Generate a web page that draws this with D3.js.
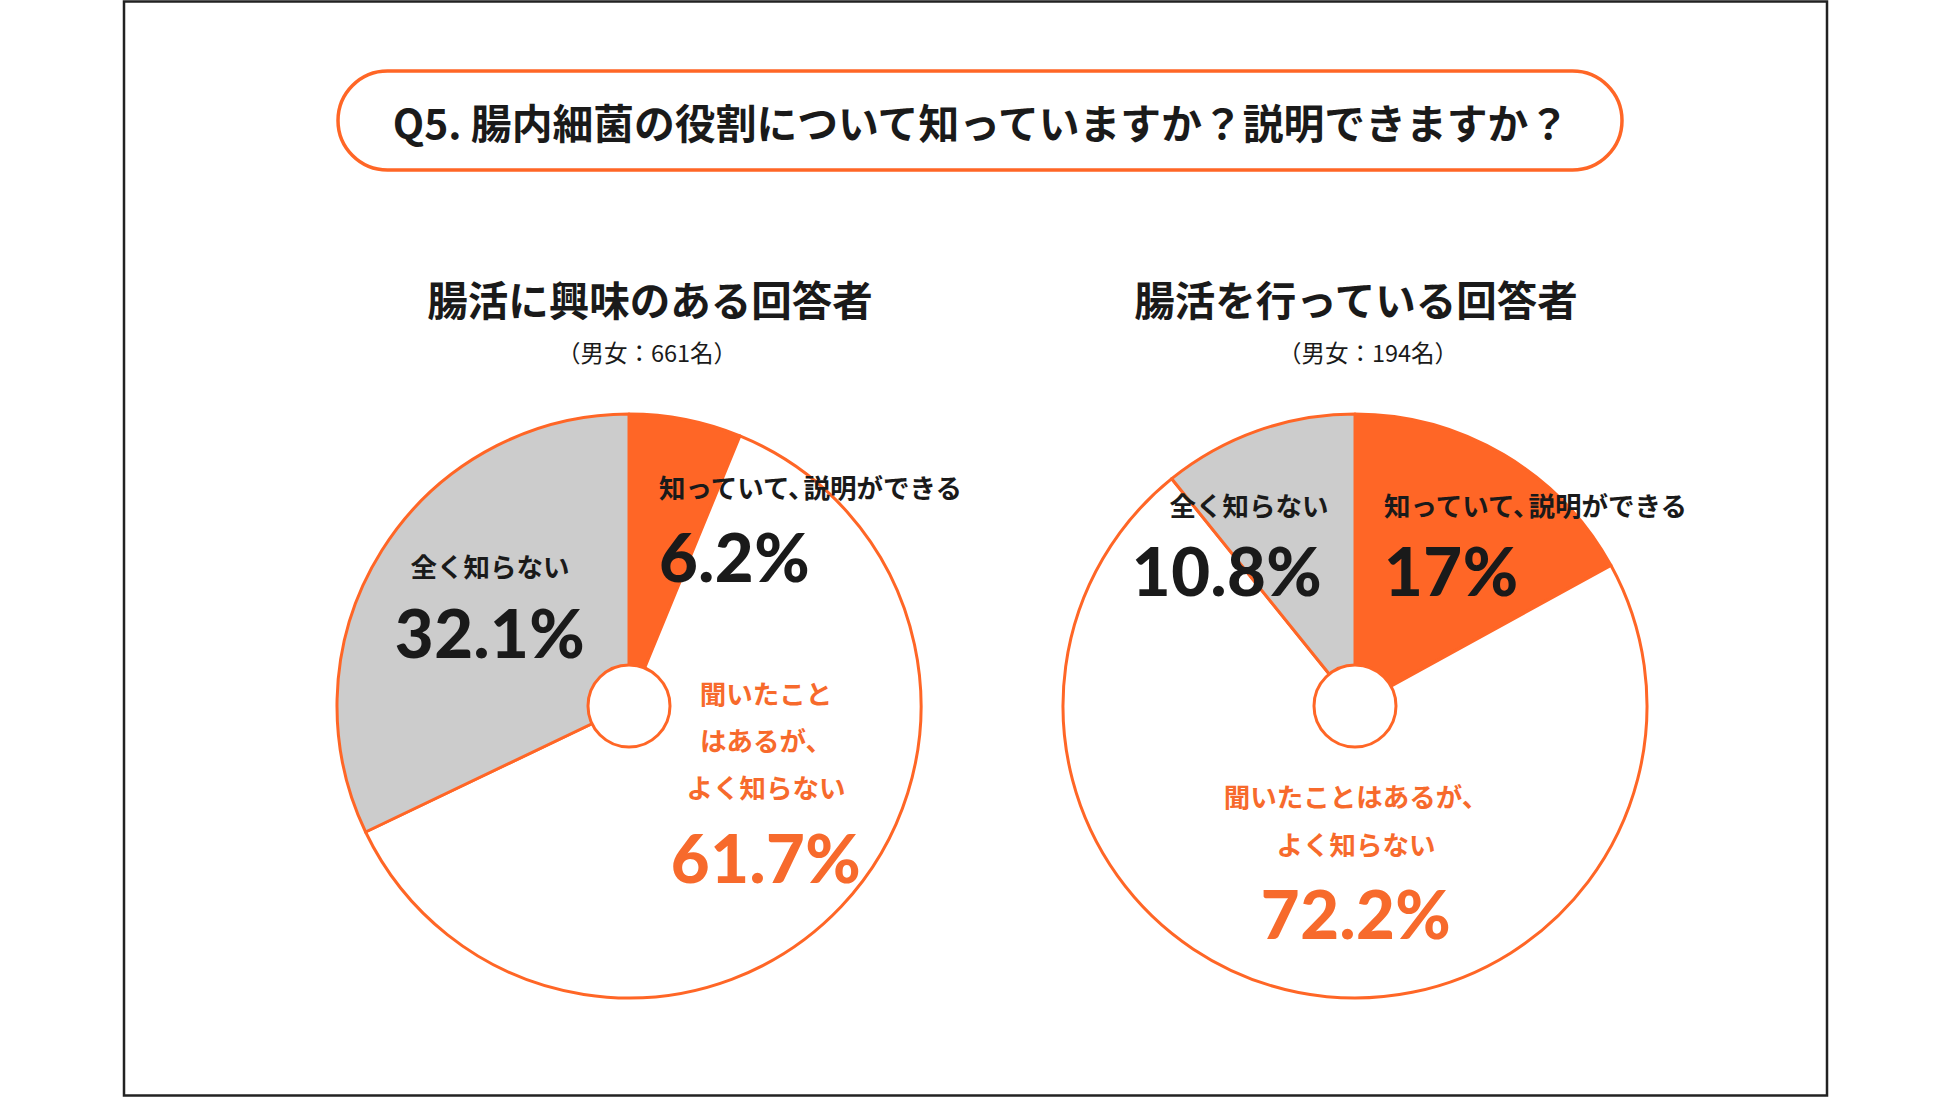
<!DOCTYPE html>
<html lang="ja">
<head>
<meta charset="utf-8">
<script src="https://cdn.jsdelivr.net/npm/d3@7"></script>
<style>
  html, body { margin: 0; padding: 0; background: #fff; }
  svg { display: block; }
</style>
</head>
<body>
<div id="chart"></div>
<script>
// data
const categories = ["知っていて、説明ができる", "聞いたことはあるが、よく知らない", "全く知らない"];
const interestedValues = [6.2, 61.7, 32.1];
const practicingValues = [17, 72.2, 10.8];
const groupTitles = ["腸活に興味のある回答者", "腸活を行っている回答者"];
const groupCounts = ["（男女：661名）", "（男女：194名）"];
const questionTitle = "Q5. 腸内細菌の役割について知っていますか？説明できますか？";

const W = 1950, H = 1097;
const ORANGE = "#ff6626";
const ORANGE_TEXT = "#f76a2c";
const GRAY = "#cccccc";
const DARK = "#1a1a1a";
const JP = "'Noto Sans CJK JP', 'Noto Sans', sans-serif";
const NUM = "Lato, 'Noto Sans', sans-serif";

const svg = d3.select("#chart").append("svg")
    .attr("width", W)
    .attr("height", H)
    .attr("viewBox", `0 0 ${W} ${H}`);

// outer frame
svg.append("rect")
    .attr("x", 124).attr("y", 1.5)
    .attr("width", 1703).attr("height", 1094)
    .attr("fill", "none")
    .attr("stroke", "#222")
    .attr("stroke-width", 2.5);

// question pill
svg.append("rect")
    .attr("x", 338).attr("y", 71)
    .attr("width", 1284).attr("height", 99)
    .attr("rx", 49.5)
    .attr("fill", "#fff")
    .attr("stroke", ORANGE)
    .attr("stroke-width", 3.5);

svg.append("text")
    .attr("x", 981).attr("y", 121)
    .attr("dominant-baseline", "central")
    .attr("text-anchor", "middle")
    .style("font-family", JP)
    .style("font-weight", 700)
    .style("font-size", "40.8px")
    .style("fill", DARK)
    .text(questionTitle);

// per-chart layout (offsets from the pie centre)
const charts = [
    {
        cx: 629, cy: 706, values: interestedValues, title: groupTitles[0], count: groupCounts[0],
        titleX: 650, countX: 647,
        labels: [
            { lines: [categories[0]], anchor: "start", dx: 30, dy: -220, pctDy: -150, color: DARK },
            { lines: ["聞いたこと", "はあるが、", "よく知らない"], anchor: "middle", dx: 137, dy: -14, lineH: 47, pctDy: 151, color: ORANGE_TEXT },
            { lines: [categories[2]], anchor: "middle", dx: -139, dy: -141, pctDy: -74, color: DARK, pctDx: -139 }
        ]
    },
    {
        cx: 1355, cy: 706, values: practicingValues, title: groupTitles[1], count: groupCounts[1],
        titleX: 1356, countX: 1368,
        labels: [
            { lines: [categories[0]], anchor: "start", dx: 29, dy: -202, pctDy: -136, color: DARK },
            { lines: ["聞いたことはあるが、", "よく知らない"], anchor: "middle", dx: 1, dy: 89, lineH: 48, pctDy: 207, color: ORANGE_TEXT },
            { lines: [categories[2]], anchor: "middle", dx: -106, dy: -202, pctDy: -136, color: DARK, pctDx: -128 }
        ]
    }
];

const radius = 292;
const holeR = 41;
const sliceColors = d3.scaleOrdinal().domain(categories).range([ORANGE, "#ffffff", GRAY]);

const pie = d3.pie().sort(null).value(d => d.value);
const arc = d3.arc().innerRadius(0).outerRadius(radius);

// write a label line, tightening the full-width comma like the original typesetting
function labelLine(sel, line) {
    const parts = line.split("、");
    parts.forEach((p, k) => {
        const ts = sel.append("tspan").text(p + (k < parts.length - 1 ? "、" : ""));
        if (k > 0) ts.attr("dx", -11);
    });
}

charts.forEach(c => {
    svg.append("text")
        .attr("x", c.titleX).attr("y", 298)
        .attr("dominant-baseline", "central")
        .attr("text-anchor", "middle")
        .style("font-family", JP)
        .style("font-weight", 700)
        .style("font-size", "40.5px")
        .style("fill", DARK)
        .text(c.title);

    svg.append("text")
        .attr("x", c.countX).attr("y", 352)
        .attr("dominant-baseline", "central")
        .attr("text-anchor", "middle")
        .style("font-family", JP)
        .style("font-weight", 400)
        .style("font-size", "23.5px")
        .style("fill", DARK)
        .text(c.count);

    const g = svg.append("g").attr("transform", `translate(${c.cx},${c.cy})`);
    const data = categories.map((k, i) => ({ key: k, value: c.values[i] }));

    g.selectAll("path.slice")
        .data(pie(data))
        .join("path")
        .attr("class", "slice")
        .attr("d", arc)
        .attr("fill", d => sliceColors(d.data.key))
        .attr("stroke", ORANGE)
        .attr("stroke-width", 3)
        .attr("stroke-linejoin", "round");

    g.append("circle")
        .attr("r", holeR)
        .attr("fill", "#fff")
        .attr("stroke", ORANGE)
        .attr("stroke-width", 3);

    c.labels.forEach((lb, i) => {
        lb.lines.forEach((line, j) => {
            const t = g.append("text")
                .attr("x", lb.dx)
                .attr("y", lb.dy + j * (lb.lineH || 0))
                .attr("dominant-baseline", "central")
                .attr("text-anchor", lb.anchor)
                .style("font-family", JP)
                .style("font-weight", 700)
                .style("font-size", "26.5px")
                .style("fill", lb.color);
            if (lb.anchor === "start") labelLine(t, line);
            else t.text(line);
        });
        g.append("text")
            .attr("x", lb.pctDx !== undefined ? lb.pctDx : lb.dx)
            .attr("y", lb.pctDy)
            .attr("dominant-baseline", "central")
            .attr("text-anchor", lb.anchor)
            .style("font-family", NUM)
            .style("font-weight", 900)
            .style("font-size", "67px")
            .style("letter-spacing", "0.5px")
            .style("fill", lb.color)
            .text(c.values[i] + "%");
    });
});
</script>
</body>
</html>
